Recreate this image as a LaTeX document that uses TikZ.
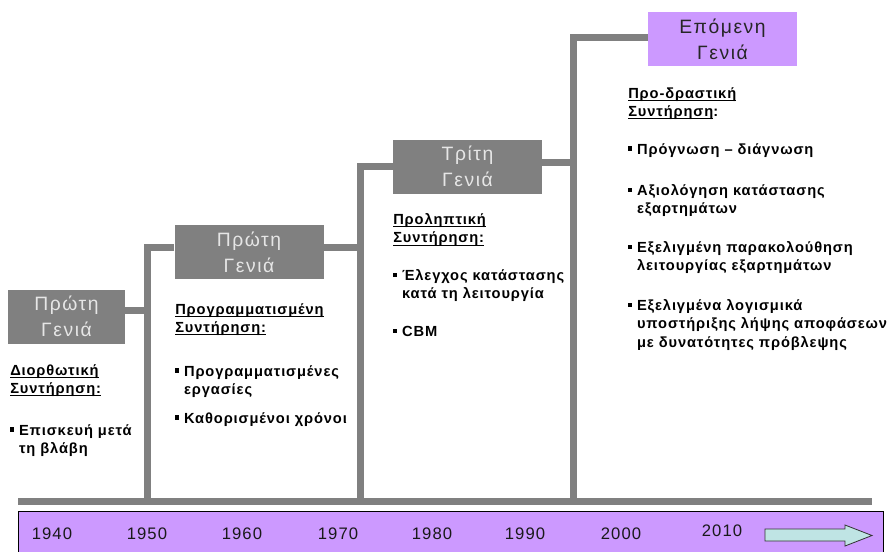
\documentclass[tikz,border=0pt]{standalone}
\usepackage{fontspec}
\setmainfont{Liberation Sans}[LetterSpace=6]
\newfontfamily\boxfont{Liberation Sans}[LetterSpace=8]
\definecolor{tgray}{HTML}{808080}
\definecolor{tlilac}{HTML}{CC99FF}
\definecolor{tcyan}{HTML}{BFE4E4}
\definecolor{tpale}{HTML}{E6E6E6}
\newcommand{\sqmark}{\rule[0.24em]{0.28em}{0.28em}\hspace{0.32em}}
\newcommand{\sqgap}{\hphantom{\sqmark}}
\newcommand{\ulhead}[1]{\underline{\raisebox{0pt}[\height][0pt]{#1}}}
\tikzset{
genbox/.style = {%
    rectangle, fill=tgray, text=tpale, minimum width=#1,
    minimum height=40.5pt, inner sep=0pt, align=center,
    font=\boxfont\fontsize{14.5}{19.5}\selectfont},
    genbox/.default = 111.75pt, % box width
rail/.style = {draw=tgray, line width=5.25pt},
notes/.style = {%
    anchor=north west, inner sep=0pt, align=left,
    font=\fontsize{11}{14}\selectfont\bfseries},
yearlabel/.style = {inner sep=0pt, text=black!90,
    font=\fontsize{12.5}{14}\selectfont}
}

\begin{document}
\begin{tikzpicture}[x=0.75pt, y=-0.75pt]
        \useasboundingbox (0,0) rectangle (891,551);

        % Timeline band and axis
        \draw[fill=tlilac, line width=0.75pt] (18,511) rectangle (883,560);
        \coordinate (axisL) at (18,501);
        \coordinate (axisR) at (872,501);
        \draw[rail] (axisL) -- (axisR);

        % Years
        \foreach \yr/\xx/\yy in {1940/52/534, 1950/147/534, 1960/242/534,
            1970/338/534, 1980/432/534, 1990/525/534, 2000/621/534, 2010/722/531}
            \node[yearlabel] (y\yr) at (\xx,\yy) {\yr};

        % Arrow at the end of the band
        \draw[fill=tcyan, draw=black!80, line width=0.6pt]
            (765,529) -- (845,529) -- (845,525) -- (872,535.5)
            -- (845,546) -- (845,541) -- (765,541) -- cycle;

        % Generation boxes
        \node[genbox=87.75pt] (gen1) at (66.5,316.5) {Πρώτη\\Γενιά};
        \node[genbox] (gen2) at (249,252) {Πρώτη\\Γενιά};
        \node[genbox] (gen3) at (467.5,166.5) {Τρίτη\\Γενιά};
        \node[genbox, fill=tlilac, text=black!85] (gen4) at (722.5,39) {Επόμενη\\Γενιά};

        % Steps down to the axis
        \coordinate (foot1) at (147,501);
        \coordinate (foot2) at (360,501);
        \coordinate (foot3) at (573,501);
        \draw[rail] ([yshift=4.5pt]gen1.east) -| (foot1);
        \draw[rail] ([yshift=3.75pt]gen2.west) -| (foot1);
        \draw[rail] ([yshift=3.75pt]gen2.east) -| (foot2);
        \draw[rail] (gen3.west) -| (foot2);
        \draw[rail] ([yshift=3pt]gen3.east) -| (foot3);
        \draw[rail] ([yshift=1.5pt]gen4.west) -| (foot3);

        % Notes under each box
        \node[notes] (note1a) at (10,364) {\ulhead{Διορθωτική}\\\ulhead{Συντήρηση:}};
        \node[notes] (note1b) at (10,424) {\sqmark Επισκευή μετά\\\sqgap τη βλάβη};

        \node[notes] (note2a) at (175,303) {\ulhead{Προγραμματισμένη}\\\ulhead{Συντήρηση:}};
        \node[notes] (note2b) at (175,365) {\sqmark Προγραμματισμένες\\\sqgap εργασίες};
        \node[notes] (note2c) at (175,412) {\sqmark Καθορισμένοι χρόνοι};

        \node[notes] (note3a) at (393,213) {\ulhead{Προληπτική}\\\ulhead{Συντήρηση:}};
        \node[notes] (note3b) at (393,269) {\sqmark Έλεγχος κατάστασης\\\sqgap κατά τη λειτουργία};
        \node[notes] (note3c) at (393,326) {\sqmark CBM};

        \node[notes] (note4a) at (628,87) {\ulhead{Προ-δραστική}\\\ulhead{Συντήρηση}:};
        \node[notes] (note4b) at (628,143) {\sqmark Πρόγνωση – διάγνωση};
        \node[notes] (note4c) at (628,184) {\sqmark Αξιολόγηση κατάστασης\\\sqgap εξαρτημάτων};
        \node[notes] (note4d) at (628,241) {\sqmark Εξελιγμένη παρακολούθηση\\\sqgap λειτουργίας εξαρτημάτων};
        \node[notes] (note4e) at (628,299) {\sqmark Εξελιγμένα λογισμικά\\\sqgap υποστήριξης λήψης αποφάσεων\\\sqgap με δυνατότητες πρόβλεψης};

    \end{tikzpicture}
\end{document}
